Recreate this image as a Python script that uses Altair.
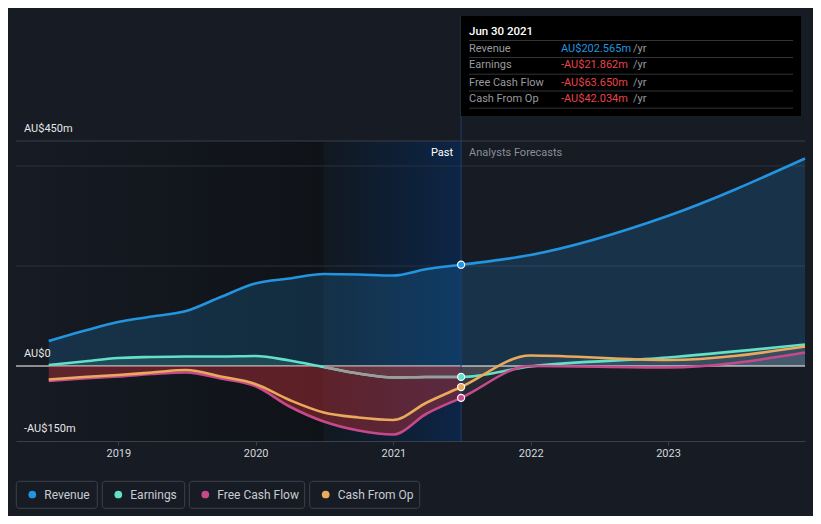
import altair as alt
import pandas as pd

# ---------------- data ----------------
dates = ["2018-06-30", "2018-09-30", "2018-12-31", "2019-03-31", "2019-06-30",
         "2019-09-30", "2019-12-31", "2020-03-31", "2020-06-30", "2020-09-30",
         "2020-12-31", "2021-03-31", "2021-06-30", "2021-12-31", "2022-12-31",
         "2023-12-31"]
revenue = [50, 70, 88, 99, 110, 138, 165, 175, 184, 183, 181, 194, 202.565, 222, 300, 415]
earnings = [2, 9, 16, 18, 19, 19, 20, 11, -2, -15, -23, -22, -21.862, -1, 17, 43]
free_cash_flow = [-30, -25, -21, -16, -13, -25, -40, -81, -111, -129, -137, -95, -63.65, 0, -3, 27]
cash_from_op = [-27, -22, -18, -13, -8, -21, -36, -68, -93, -103, -108, -73, -42.034, 21, 12, 39]

series_names = ["Revenue", "Earnings", "Free Cash Flow", "Cash From Op"]
series_colors = ["#2394df", "#62e0c8", "#c64a8b", "#e9aa5b"]

last_actual = "2021-06-30"
highlight_start = "2020-06-30"
x_start, x_end = "2018-04-04", "2023-12-31"

y_labels = ["AU$450m", "AU$0", "-AU$150m"]
y_label_values = [450, 0, -150]
grid_values = [450, 400, 200]

tooltip_title = "Jun 30 2021"
tooltip_labels = ["Revenue", "Earnings", "Free Cash Flow", "Cash From Op"]
tooltip_values = ["AU$202.565m", "-AU$21.862m", "-AU$63.650m", "-AU$42.034m"]
tooltip_value_colors = ["#2394df", "#e8434b", "#e8434b", "#e8434b"]

BG = "#161b24"
FONT = "Roboto"

# ---------------- tables ----------------
wide = pd.DataFrame({"date": pd.to_datetime(dates), "Revenue": revenue, "Earnings": earnings,
                     "Free Cash Flow": free_cash_flow, "Cash From Op": cash_from_op})
long = wide.melt("date", var_name="series", value_name="value")
past = wide[wide["date"] <= pd.Timestamp(last_actual)]
fore = wide[wide["date"] >= pd.Timestamp(last_actual)]
neg_earn = wide[(wide["date"] >= pd.Timestamp(highlight_start)) & (wide["date"] <= pd.Timestamp(last_actual))]
last_pts = long[long["date"] == pd.Timestamp(last_actual)]

xs = pd.Timestamp(x_start)
xe = pd.Timestamp(x_end)
xscale = alt.Scale(domain=[alt.DateTime(year=xs.year, month=xs.month, date=xs.day),
                           alt.DateTime(year=xe.year, month=xe.month, date=xe.day)])
yscale = alt.Scale(domain=[-150, 450], nice=False, zero=False)
xaxis = alt.Axis(format="%Y", tickCount="year", labelColor="#d4d6da", labelFontSize=11,
                 labelFont=FONT, domainColor="#3a3f4a", tickColor="#3a3f4a", tickSize=4,
                 labelPadding=2, grid=False, title=None)
cscale = alt.Scale(domain=series_names, range=series_colors)


def X(field):
    return alt.X(field, type="temporal", scale=xscale, axis=xaxis)


def Y(field):
    return alt.Y(field, type="quantitative", scale=yscale, axis=None)


def grad_x(c0, c1):
    return alt.LinearGradient(gradient="linear", x1=0, x2=1, y1=0, y2=0,
                              stops=[alt.GradientStop(color=c0, offset=0),
                                     alt.GradientStop(color=c1, offset=1)])


regions = pd.DataFrame({"s": pd.to_datetime([x_start]), "e": pd.to_datetime([highlight_start])})
hl = pd.DataFrame({"s": pd.to_datetime([highlight_start]), "e": pd.to_datetime([last_actual])})

layers = []
layers.append(alt.Chart(regions).mark_rect(fill=grad_x("#161b24", "#0f1217")).encode(
    x=X("s"), x2="e", y=alt.value(0), y2=alt.value(300)))
layers.append(alt.Chart(hl).mark_rect(fill=grad_x("#111820", "#0c2547")).encode(
    x=X("s"), x2="e", y=alt.value(0), y2=alt.value(300)))

grid = pd.DataFrame({"v": grid_values, "c": ["#3a3f4a", "#2a303a", "#2a303a"]})
layers.append(alt.Chart(grid).mark_rule(strokeWidth=1).encode(
    y=Y("v"), color=alt.Color("c:N", scale=None)))

# fills
layers.append(alt.Chart(wide).mark_area(interpolate="monotone", color="#2394df", opacity=0.2).encode(
    x=X("date"), y=Y("Revenue"), y2=alt.datum(0)))
layers.append(alt.Chart(past).mark_area(interpolate="monotone", color="#62e0c8", opacity=0.15).encode(
    x=X("date"), y=Y("Earnings"), y2=alt.datum(0)))
for s in ["Earnings", "Cash From Op", "Free Cash Flow"]:
    layers.append(alt.Chart(fore).mark_area(interpolate="monotone", color="#ffffff", opacity=0.07).encode(
        x=X("date"), y=Y(s), y2=alt.datum(0)))

# zero line
layers.append(alt.Chart(pd.DataFrame({"v": [0]})).mark_rule(color="#ffffff", strokeWidth=1).encode(y=Y("v")))

layers.append(alt.Chart(past).mark_area(interpolate="monotone", color="#c8323c", opacity=0.42).encode(
    x=X("date"), y=Y("Free Cash Flow"), y2=alt.datum(0)))

# lines
layers.append(alt.Chart(long).mark_line(interpolate="monotone", strokeWidth=2.6).encode(
    x=X("date"), y=Y("value"),
    color=alt.Color("series:N", scale=cscale, legend=None),
    order=alt.Order("date:T")))
layers.append(alt.Chart(neg_earn).mark_line(interpolate="monotone", strokeWidth=2.6, color="#9c9c9e").encode(
    x=X("date"), y=Y("Earnings")))

# vertical marker
layers.append(alt.Chart(pd.DataFrame({"d": pd.to_datetime([last_actual])})).mark_rule(
    color="#1e3f6e", strokeWidth=1).encode(x=X("d"), y=alt.value(-125), y2=alt.value(300)))

layers.append(alt.Chart(last_pts).mark_point(filled=True, size=50, stroke="#ffffff", strokeWidth=1.2, opacity=1).encode(
    x=X("date"), y=Y("value"), fill=alt.Color("series:N", scale=cscale, legend=None)))

marker = pd.DataFrame({"d": pd.to_datetime([last_actual]), "a": ["Past"], "b": ["Analysts Forecasts"]})
layers.append(alt.Chart(marker).mark_text(align="right", baseline="middle", dx=-8, fontSize=11,
                                          color="#ffffff", font=FONT).encode(
    x=X("d"), y=alt.value(12), text="a:N"))
layers.append(alt.Chart(marker).mark_text(align="left", baseline="middle", dx=8, fontSize=11,
                                          color="#8a8f98", font=FONT).encode(
    x=X("d"), y=alt.value(12), text="b:N"))

# y labels
ylab = pd.DataFrame({"v": y_label_values, "t": y_labels})
layers.append(alt.Chart(ylab).mark_text(align="left", baseline="middle", dy=-12, fontSize=11,
                                        color="#e6e6e6", font=FONT).encode(
    x=alt.value(8), y=Y("v"), text="t:N"))

# tooltip box
one = pd.DataFrame({"k": [0]})
layers.append(alt.Chart(one).mark_rect(fill="#000000").encode(
    x=alt.value(445), x2=alt.value(785), y=alt.value(-125), y2=alt.value(-25)))
layers.append(alt.Chart(pd.DataFrame({"t": [tooltip_title]})).mark_text(
    align="left", baseline="middle", fontSize=11.5, color="#ffffff", font=FONT, fontWeight=500).encode(
    x=alt.value(453), y=alt.value(-109), text="t:N"))
for ysep in [-100.5, -83.5, -66.8, -50, -32.8]:
    layers.append(alt.Chart(one).mark_rule(color="#333438", strokeWidth=1).encode(
        x=alt.value(453), x2=alt.value(777), y=alt.value(ysep)))
row_y = [-92.3, -75.8, -58.5, -41.7]
for lab, val, col, ry in zip(tooltip_labels, tooltip_values, tooltip_value_colors, row_y):
    d = pd.DataFrame({"l": [lab], "v": [val], "u": ["/yr"]})
    layers.append(alt.Chart(d).mark_text(align="left", baseline="middle", fontSize=11,
                                         color="#9a9a9e", font=FONT).encode(
        x=alt.value(453), y=alt.value(ry), text="l:N"))
    layers.append(alt.Chart(d).mark_text(align="left", baseline="middle", fontSize=11,
                                         color=col, font=FONT).encode(
        x=alt.value(545), y=alt.value(ry), text="v:N"))
    layers.append(alt.Chart(d).mark_text(align="left", baseline="middle", fontSize=11,
                                         color="#9a9a9e", font=FONT).encode(
        x=alt.value(617), y=alt.value(ry), text="u:N"))

# legend
box_x = [(0.3, 81.3), (86.3, 168.7), (173.3, 288.7), (293.7, 403.7)]
for name, col, (bx0, bx1) in zip(series_names, series_colors, box_x):
    d = pd.DataFrame({"n": [name]})
    layers.append(alt.Chart(d).mark_rect(fill=BG, stroke="#3d424c", strokeWidth=1, cornerRadius=3).encode(
        x=alt.value(bx0), x2=alt.value(bx1), y=alt.value(340.3), y2=alt.value(367.3)))
    layers.append(alt.Chart(d).mark_circle(size=60, opacity=1, color=col).encode(
        x=alt.value(bx0 + 16), y=alt.value(353.5)))
    layers.append(alt.Chart(d).mark_text(align="left", baseline="middle", fontSize=12,
                                         color="#c8ccd2", font=FONT).encode(
        x=alt.value(bx0 + 28), y=alt.value(353.8), text="n:N"))

chart = alt.layer(*layers).properties(
    width=789, height=300,
    padding={"left": 8, "top": 133, "right": 8, "bottom": 75},
    autosize=alt.AutoSizeParams(type="none"),
    background=BG,
).configure_view(stroke=None)

chart.save("out.html", embed_options={"renderer": "svg", "actions": False})
